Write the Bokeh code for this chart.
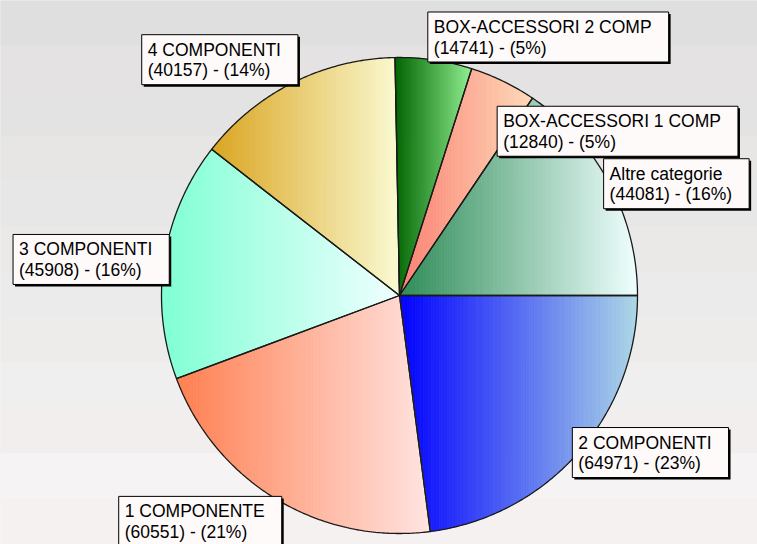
import math
from bokeh.plotting import figure
from bokeh.models import Range1d
from bokeh.embed import file_html
from bokeh.resources import INLINE
from bokeh.core.properties import value

# ---------------- data ----------------
categories = ["2 COMPONENTI", "1 COMPONENTE", "3 COMPONENTI", "4 COMPONENTI",
              "BOX-ACCESSORI 2 COMP", "BOX-ACCESSORI 1 COMP", "Altre categorie"]
values = [64971, 60551, 45908, 40157, 14741, 12840, 44081]

# ---------------- styles ----------------
grad_start = ["#0000ff", "#ff7f50", "#7fffd4", "#daa520", "#006400", "#fa8072", "#2e8b57"]
grad_end = ["#add8e6", "#ffe4e1", "#f0ffff", "#fafad2", "#90ee90", "#ffdab9", "#f0ffff"]
label_nudge = [0, 0, 0, 0, 0, 73, 0]   # vertical collision shift (ref px, downward)

W_REF, H_REF = 757, 544
CX, CY, R = 399, 295, 238          # pie centre / radius in reference pixels (y down)
FS = 17.5                          # font size in reference pixels
FIG_W, FIG_H = 757, 544
SCALE = FIG_W / W_REF

def Y(ypx):
    return H_REF - ypx

def hex2rgb(h):
    h = h.lstrip("#")
    return tuple(int(h[i:i + 2], 16) for i in (0, 2, 4))

def mix(c0, c1, t):
    a, b = hex2rgb(c0), hex2rgb(c1)
    return "#%02x%02x%02x" % tuple(int(round(a[i] + (b[i] - a[i]) * t)) for i in range(3))

def clip(poly, x0, keep_greater):
    out = []
    n = len(poly)
    for i in range(n):
        p1 = poly[i]
        p2 = poly[(i + 1) % n]
        in1 = (p1[0] >= x0) if keep_greater else (p1[0] <= x0)
        in2 = (p2[0] >= x0) if keep_greater else (p2[0] <= x0)
        if in1:
            out.append(p1)
        if in1 != in2:
            t = (x0 - p1[0]) / (p2[0] - p1[0])
            out.append((x0, p1[1] + t * (p2[1] - p1[1])))
    return out

# Arial-like advance widths (per 1000 em)
CW = {' ': 278, '(': 333, ')': 333, '-': 333, '%': 889, 'A': 667, 'B': 667, 'C': 722,
      'E': 667, 'I': 278, 'M': 833, 'N': 722, 'O': 778, 'P': 667, 'R': 722, 'S': 667,
      'T': 611, 'X': 667, 'a': 556, 'c': 500, 'e': 556, 'g': 556, 'i': 222, 'l': 222,
      'o': 556, 'r': 333, 't': 278}

def text_w(s):
    return sum(CW.get(ch, 556) for ch in s) * FS / 1000.0

# ---------------- figure ----------------
p = figure(width=FIG_W, height=FIG_H, x_range=Range1d(0, W_REF), y_range=Range1d(0, H_REF),
           output_backend="svg", toolbar_location=None, min_border=0)
p.axis.visible = False
p.grid.visible = False
p.outline_line_color = None
p.background_fill_color = "#ececec"
p.border_fill_color = "#ececec"

# background bands (light gray -> near white, downward)
nb = 12
bh = H_REF / nb
for i in range(nb):
    t = i / (nb - 1)
    base = mix("#dfdfdf", "#f7f5f5", t)
    if i % 2 == 1:
        base = mix(base, "#efe6e6", 0.25)
    p.quad(left=0, right=W_REF, top=Y(i * bh), bottom=Y((i + 1) * bh),
           fill_color=base, line_color=base, line_width=1)

total = float(sum(values))
starts, ends = [], []
acc = 0.0
for v in values:
    starts.append(acc / total * 2 * math.pi)
    acc += v
    ends.append(acc / total * 2 * math.pi)

NSTRIP = 90
outline_xs, outline_ys = [], []
for k in range(len(values)):
    a0, a1 = starts[k], ends[k]
    npts = max(8, int((a1 - a0) / (2 * math.pi) * 720))
    poly = [(CX, CY)]
    for j in range(npts + 1):
        a = a0 + (a1 - a0) * j / npts
        poly.append((CX + R * math.cos(a), CY + R * math.sin(a)))
    xmin = min(q[0] for q in poly)
    xmax = max(q[0] for q in poly)
    sx, sy, sc = [], [], []
    for s in range(NSTRIP):
        x0 = xmin + (xmax - xmin) * s / NSTRIP
        x1 = xmin + (xmax - xmin) * (s + 1) / NSTRIP
        piece = clip(clip(poly, x0, True), x1, False)
        if len(piece) < 3:
            continue
        sx.append([q[0] for q in piece])
        sy.append([Y(q[1]) for q in piece])
        sc.append(mix(grad_start[k], grad_end[k], (s + 0.5) / NSTRIP))
    p.patches(sx, sy, fill_color=sc, line_color=sc, line_width=0.8)
    outline_xs.append([q[0] for q in poly])
    outline_ys.append([Y(q[1]) for q in poly])

p.patches(outline_xs, outline_ys, fill_alpha=0, line_color="#1a1a1a", line_width=1.3)

# ---------------- labels ----------------
BOX_H = 50
for k in range(len(values)):
    pct = int(round(values[k] / total * 100))
    l1 = categories[k]
    l2 = "(%d) - (%d%%)" % (values[k], pct)
    bw = max(text_w(l1), text_w(l2)) + 23
    am = (starts[k] + ends[k]) / 2
    c, s = math.cos(am), math.sin(am)
    px, py = CX + R * c, CY + R * s
    if c >= 0:
        left = px - 6
    else:
        left = px + 5 - bw
    if s > 0.8:
        top = py - 3
    elif s < -0.8:
        top = py + 2 - BOX_H
    else:
        top = py - BOX_H / 2
    top += label_nudge[k]
    # shadow
    p.quad(left=left + 2, right=left + bw + 2, top=Y(top + 2), bottom=Y(top + BOX_H + 2),
           fill_color="#000000", line_color=None)
    p.quad(left=left, right=left + bw, top=Y(top), bottom=Y(top + BOX_H),
           fill_color="#fffafa", line_color="#000000", line_width=1)
    p.text(x=[left + 6], y=[Y(top + 5)], text=[l1 + "\n" + l2],
           text_font=value("Liberation Sans"), text_font_size="%.1fpx" % (FS * SCALE),
           text_color="#000000", text_baseline="top", text_align="left",
           text_line_height=1.03)

open("out.html", "w").write(file_html(p, INLINE))
